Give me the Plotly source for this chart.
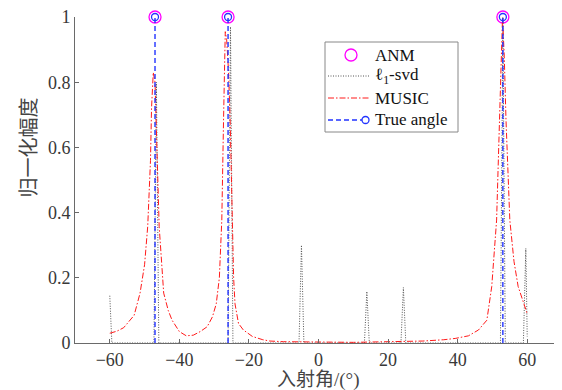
import plotly.graph_objects as go

# ---- data ----
true_angles = [-47, -26, 53]
anm_angles = [-47, -26, 53]
anm_values = [1.0, 1.0, 1.0]

music_x = [-60, -58, -56, -55, -53, -51.3, -50, -49.1, -48.3, -48.0, -47.5, -47.0, -46.4, -45.8,
           -44.5, -43.2, -42.1, -40, -38, -36, -34, -32, -30.5, -29.4, -28.5, -27.8, -27.3, -26.8,
           -26.4, -25.9, -25.4, -24.9, -24.4, -24.0, -23.0, -21.6, -19, -16, -14, -10, 0, 10, 20,
           30, 36, 39.3, 43.1, 46, 48.4, 49.8, 51.2, 52.0, 52.5, 52.9, 53.4, 53.9, 55.0, 56.2,
           57.4, 58.7, 60]
music_y = [0.03, 0.036, 0.047, 0.06, 0.085, 0.153, 0.24, 0.357, 0.56, 0.72, 0.83, 0.80, 0.56, 0.357,
           0.153, 0.1, 0.07, 0.035, 0.022, 0.024, 0.035, 0.05, 0.08, 0.12, 0.2, 0.377, 0.684, 0.955,
           0.93, 0.84, 0.684, 0.377, 0.2, 0.12, 0.06, 0.04, 0.02, 0.01, 0.006, 0.004, 0.002, 0.002,
           0.004, 0.006, 0.01, 0.014, 0.022, 0.04, 0.07, 0.173, 0.377, 0.684, 0.88, 1.0, 0.88, 0.684,
           0.377, 0.25, 0.173, 0.13, 0.09]

l1_x = [-60, -59.4, -47.3, -46.6, -45.9, -26.0, -25.3, -24.6, -5.6, -4.9, -4.2, 13.2, 13.9, 14.6,
        23.7, 24.4, 25.1, 52.3, 53.0, 53.7, 58.9, 59.6, 60]
l1_y = [0.145, 0, 0, 0.80, 0, 0, 0.97, 0, 0, 0.30, 0, 0, 0.158, 0,
        0, 0.17, 0, 0, 1.0, 0, 0, 0.29, 0.02]

x_ticks = [-60, -40, -20, 0, 20, 40, 60]
y_ticks = [0, 0.2, 0.4, 0.6, 0.8, 1]
y_tick_text = ["0", "0.2", "0.4", "0.6", "0.8", "1"]

legend_labels = ["ANM", "ℓ<sub>1</sub>-svd", "MUSIC", "True angle"]

serif = "Liberation Serif, Times New Roman, serif"
cjk = "Liberation Serif, Noto Sans CJK SC, sans-serif"
tick_color = "#383838"
axis_color = "#6a6a6a"

ANM_C = "#ff00ff"
L1_C = "#555555"
MUSIC_C = "#ff1a1a"
TRUE_C = "#2233ff"
L1_DASH = "1px,1.5px"
MUSIC_DASH = "6px,2px,1.5px,2px"
TRUE_DASH = "5px,3px"

fig = go.Figure()

fig.add_trace(go.Scatter(
    x=anm_angles, y=anm_values, mode="markers", name="ANM",
    marker=dict(symbol="circle-open", size=12, color=ANM_C, line=dict(width=1.3, color=ANM_C)),
    cliponaxis=False))

fig.add_trace(go.Scatter(
    x=l1_x, y=l1_y, mode="lines", name="l1-svd",
    line=dict(color=L1_C, width=1, dash=L1_DASH), cliponaxis=False))

fig.add_trace(go.Scatter(
    x=music_x, y=music_y, mode="lines", name="MUSIC",
    line=dict(color=MUSIC_C, width=1, dash=MUSIC_DASH), cliponaxis=False))

vx, vy = [], []
for a in true_angles:
    vx += [a, a, None]
    vy += [0, 1, None]
fig.add_trace(go.Scatter(
    x=vx, y=vy, mode="lines", name="True angle",
    line=dict(color=TRUE_C, width=1.4, dash=TRUE_DASH), cliponaxis=False))
fig.add_trace(go.Scatter(
    x=true_angles, y=[1] * len(true_angles), mode="markers", name="True angle",
    marker=dict(symbol="circle-open", size=7, color=TRUE_C, line=dict(width=1.3, color=TRUE_C)),
    cliponaxis=False))

# ---- manual legend (layout in pixels of the plot area) ----
PL, PR, PT, PB = 75, 562, 17, 343


def px_x(p):
    return (p - PL) / (PR - PL)


def px_y(p):
    return (PB - p) / (PB - PT)


shapes = [dict(type="rect", xref="paper", yref="paper",
               x0=px_x(325), x1=px_x(458), y0=px_y(132), y1=px_y(42),
               line=dict(color="#888888", width=1), fillcolor="white", layer="above")]
rows = [55, 76, 98, 120]
shapes.append(dict(type="circle", xref="paper", yref="paper", xsizemode="pixel", ysizemode="pixel",
                   xanchor=px_x(351), yanchor=px_y(rows[0]), x0=-6, x1=6, y0=-6, y1=6,
                   line=dict(color=ANM_C, width=1.3)))
shapes.append(dict(type="line", xref="paper", yref="paper", x0=px_x(328), x1=px_x(370),
                   y0=px_y(rows[1]), y1=px_y(rows[1]), line=dict(color=L1_C, width=1, dash=L1_DASH)))
shapes.append(dict(type="line", xref="paper", yref="paper", x0=px_x(328), x1=px_x(370),
                   y0=px_y(rows[2]), y1=px_y(rows[2]), line=dict(color=MUSIC_C, width=1, dash=MUSIC_DASH)))
shapes.append(dict(type="line", xref="paper", yref="paper", x0=px_x(328), x1=px_x(362),
                   y0=px_y(rows[3]), y1=px_y(rows[3]), line=dict(color=TRUE_C, width=1.4, dash=TRUE_DASH)))
shapes.append(dict(type="circle", xref="paper", yref="paper", xsizemode="pixel", ysizemode="pixel",
                   xanchor=px_x(365.5), yanchor=px_y(rows[3]), x0=-3.5, x1=3.5, y0=-3.5, y1=3.5,
                   line=dict(color=TRUE_C, width=1.3)))

annotations = [
    dict(text="入射角/(°)", x=0.5, y=0, xref="paper", yref="paper", yshift=-37, yanchor="middle",
         xanchor="center", showarrow=False, font=dict(family=cjk, size=19, color="#444444")),
    dict(text="归一化幅度", x=0, y=0.6, xref="paper", yref="paper", xshift=-46, xanchor="center",
         yanchor="middle", textangle=-90, showarrow=False,
         font=dict(family=cjk, size=20, color="#444444")),
]
for lab, r in zip(legend_labels, rows):
    annotations.append(dict(text=lab, x=px_x(373), y=px_y(r), xref="paper", yref="paper",
                            xanchor="left", yanchor="middle", showarrow=False,
                            font=dict(family=serif, size=17, color="#111111")))

fig.update_layout(
    width=554, height=382,
    margin=dict(l=67, r=0, t=9, b=47),
    paper_bgcolor="white", plot_bgcolor="white",
    showlegend=False,
    shapes=shapes,
    annotations=annotations,
    xaxis=dict(range=[-70, 70], tickvals=x_ticks, ticks="inside", ticklen=4, tickcolor=axis_color,
               showline=True, linecolor=axis_color, linewidth=1, showgrid=False, zeroline=False,
               tickfont=dict(family=serif, size=18, color=tick_color), automargin=False,
               ticklabelstandoff=0, ticklabeloverflow="allow"),
    yaxis=dict(range=[0, 1], tickvals=y_ticks, ticktext=y_tick_text, ticks="inside", ticklen=4,
               tickcolor=axis_color, showline=True, linecolor=axis_color, linewidth=1,
               showgrid=False, zeroline=False, automargin=False, ticklabeloverflow="allow",
               tickfont=dict(family=serif, size=18, color=tick_color)),
)

fig.write_html("out.html")
